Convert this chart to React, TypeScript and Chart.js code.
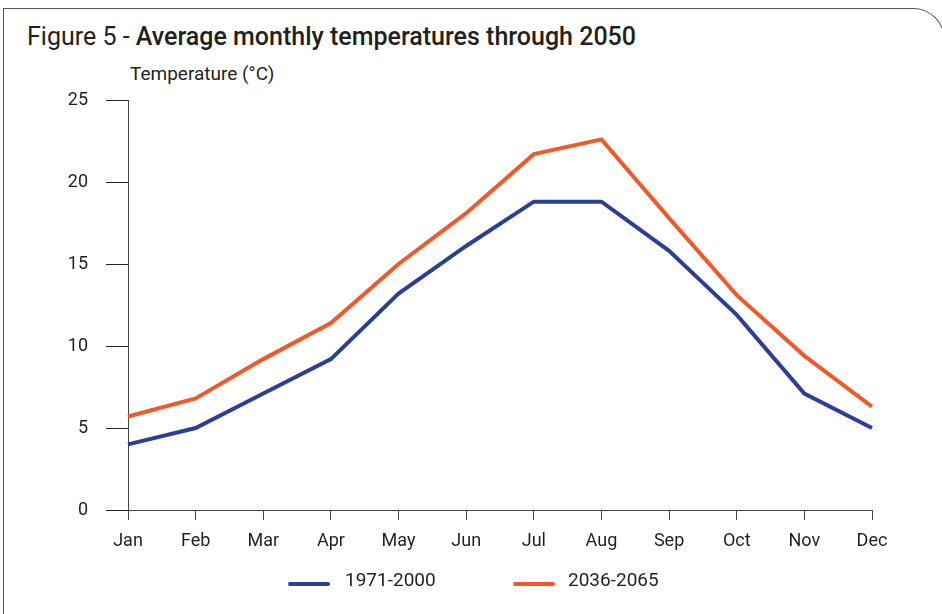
import React, { useEffect, useRef } from "react";
import { Chart, registerables } from "chart.js";

Chart.register(...registerables);

const months = ["Jan", "Feb", "Mar", "Apr", "May", "Jun", "Jul", "Aug", "Sep", "Oct", "Nov", "Dec"];
const seriesNames = ["1971-2000", "2036-2065"];
const baseline = [4.0, 5.0, 7.1, 9.2, 13.2, 16.1, 18.8, 18.8, 15.8, 11.9, 7.1, 5.0];
const future = [5.7, 6.8, 9.2, 11.4, 15.0, 18.1, 21.7, 22.6, 17.8, 13.1, 9.4, 6.3];
const yTicks = [0, 5, 10, 15, 20, 25];

const FONT = "'Roboto', 'DejaVu Sans Condensed', sans-serif";
const TEXT = "#231f20";
const BLUE = "#2c3f97";
const ORANGE = "#f05a28";

const legendPlugin = {
  id: "customLegend",
  afterDraw(chart: any) {
    const ctx = chart.ctx;
    const items = [
      { x0: 290, x1: 328, tx: 345 },
      { x0: 515, x1: 553, tx: 568 },
    ];
    const y = 581;
    ctx.save();
    chart.data.datasets.forEach((ds: any, i: number) => {
      const it = items[i];
      ctx.strokeStyle = ds.borderColor;
      ctx.lineWidth = 4;
      ctx.lineCap = "round";
      ctx.beginPath();
      ctx.moveTo(it.x0, y + 3);
      ctx.lineTo(it.x1, y + 3);
      ctx.stroke();
      ctx.fillStyle = TEXT;
      ctx.font = `19px ${FONT}`;
      ctx.textBaseline = "middle";
      ctx.textAlign = "left";
      ctx.fillText(ds.label, it.tx, y);
    });
    ctx.restore();
  },
};

export default function App() {
  const ref = useRef<HTMLCanvasElement | null>(null);
  useEffect(() => {
    if (!ref.current) return;
    const chart = new Chart(ref.current, {
      type: "line",
      data: {
        labels: months,
        datasets: [
          {
            label: seriesNames[0],
            data: baseline,
            borderColor: BLUE,
            backgroundColor: BLUE,
            borderWidth: 4,
            pointRadius: 0,
            tension: 0,
          },
          {
            label: seriesNames[1],
            data: future,
            borderColor: ORANGE,
            backgroundColor: ORANGE,
            borderWidth: 4,
            pointRadius: 0,
            tension: 0,
          },
        ],
      },
      options: {
        animation: false,
        responsive: false,
        maintainAspectRatio: false,
        layout: { padding: { left: 0, right: 70, top: 100, bottom: 64 } },
        plugins: {
          legend: { display: false },
          tooltip: { enabled: false },
        },
        scales: {
          x: {
            type: "category",
            offset: false,
            grid: {
              drawOnChartArea: false,
              drawTicks: true,
              tickLength: 10,
              tickColor: "#444",
              lineWidth: 1,
            },
            border: { display: true, color: "#444", width: 1 },
            ticks: {
              color: TEXT,
              font: { family: FONT, size: 18 },
              padding: 11,
              maxRotation: 0,
              autoSkip: false,
            },
            afterFit: (s: any) => {
              s.height = 40;
            },
          },
          y: {
            min: 0,
            max: 25,
            afterBuildTicks: (s: any) => {
              s.ticks = yTicks.map((v) => ({ value: v }));
            },
            grid: {
              drawOnChartArea: false,
              drawTicks: true,
              tickLength: 22,
              tickColor: "#222",
              lineWidth: 1,
            },
            border: { display: true, color: "#444", width: 1 },
            ticks: {
              color: TEXT,
              font: { family: FONT, size: 18 },
              padding: 18,
            },
            afterFit: (s: any) => {
              s.width = 128;
            },
          },
        },
      },
      plugins: [legendPlugin],
    });
    return () => chart.destroy();
  }, []);

  return (
    <div style={{ position: "fixed", left: 0, top: 0, width: 942, height: 614, background: "#fff", overflow: "hidden" }}>
      <div
        style={{
          position: "absolute",
          left: 3,
          top: 8,
          width: 942,
          height: 700,
          borderLeft: "1.5px solid #555",
          borderTop: "1.5px solid #555",
          borderTopRightRadius: 32,
          borderRight: "1.5px solid #555",
          boxSizing: "border-box",
        }}
      />
      <div
        style={{
          position: "absolute",
          left: 27,
          top: 22,
          fontFamily: FONT,
          fontSize: 25,
          color: TEXT,
          whiteSpace: "nowrap",
          lineHeight: "30px",
        }}
      >
        <span style={{ fontWeight: 400 }}>Figure 5 - </span>
        <span style={{ fontWeight: 500 }}>Average monthly temperatures through 2050</span>
      </div>
      <div
        style={{
          position: "absolute",
          left: 130,
          top: 63,
          fontFamily: FONT,
          fontSize: 19,
          color: TEXT,
          whiteSpace: "nowrap",
          lineHeight: "22px",
        }}
      >
        Temperature (°C)
      </div>
      <canvas ref={ref} width={942} height={614} style={{ position: "absolute", left: 0, top: 0, width: 942, height: 614 }} />
    </div>
  );
}
